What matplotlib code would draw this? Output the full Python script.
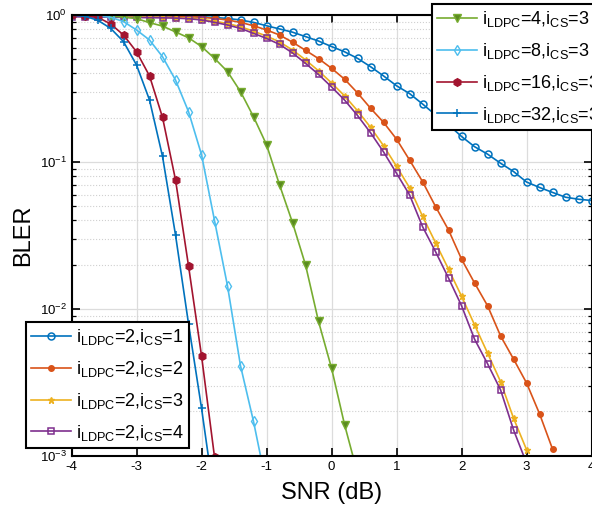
import numpy as np
import matplotlib.pyplot as plt
from matplotlib.ticker import LogLocator, NullFormatter

plt.rcParams['font.family'] = ['Liberation Sans', 'DejaVu Sans']
plt.rcParams['mathtext.fontset'] = 'custom'
plt.rcParams['mathtext.rm'] = 'Liberation Sans'
plt.rcParams['axes.unicode_minus'] = False

##############################################################
# Data (BLER vs SNR)
##############################################################
snr = [-4.0, -3.8, -3.6, -3.4, -3.2, -3.0, -2.8, -2.6, -2.4, -2.2,
       -2.0, -1.8, -1.6, -1.4, -1.2, -1.0, -0.8, -0.6, -0.4, -0.2,
       0.0, 0.2, 0.4, 0.6, 0.8, 1.0, 1.2, 1.4, 1.6, 1.8,
       2.0, 2.2, 2.4, 2.6, 2.8, 3.0, 3.2, 3.4, 3.6, 3.8, 4.0]

# i_LDPC = 2, varying i_CS
bler_cs1 = [1.0, 0.998, 0.998, 0.995, 0.995, 0.993, 0.991, 0.989, 0.984, 0.979,
            0.973, 0.962, 0.948, 0.925, 0.891, 0.845, 0.804, 0.764, 0.713, 0.665,
            0.610, 0.562, 0.507, 0.445, 0.385, 0.330, 0.292, 0.248, 0.209, 0.179,
            0.149, 0.127, 0.113, 0.098, 0.086, 0.073, 0.067, 0.062, 0.0575, 0.0557, 0.0546]
bler_cs2 = [1.0, 0.998, 0.998, 0.995, 0.995, 0.993, 0.991, 0.989, 0.984, 0.977,
            0.966, 0.948, 0.925, 0.891, 0.845, 0.791, 0.731, 0.653, 0.575, 0.505,
            0.434, 0.366, 0.295, 0.232, 0.186, 0.143, 0.103, 0.0735, 0.0497, 0.0344,
            0.0218, 0.0150, 0.0105, 0.00655, 0.00455, 0.00313, 0.00193, 0.00111]
bler_cs3 = [0.982, 0.979, 0.977, 0.975, 0.973, 0.971, 0.968, 0.964, 0.959, 0.951,
            0.935, 0.908, 0.875, 0.832, 0.776, 0.719, 0.656, 0.578, 0.495, 0.417,
            0.345, 0.282, 0.223, 0.172, 0.129, 0.0933, 0.0668, 0.0427, 0.0282, 0.0186,
            0.0122, 0.00778, 0.00500, 0.00320, 0.00180, 0.00110]
bler_cs4 = [0.973, 0.970, 0.968, 0.966, 0.964, 0.962, 0.959, 0.957, 0.953, 0.944,
            0.925, 0.891, 0.855, 0.811, 0.750, 0.693, 0.631, 0.552, 0.469, 0.394,
            0.324, 0.264, 0.207, 0.158, 0.117, 0.0837, 0.0597, 0.0363, 0.0245, 0.0162,
            0.0105, 0.00622, 0.00423, 0.00281, 0.00150, 0.00089]

# i_CS = 3, varying i_LDPC
bler_ldpc4 = [1.0, 0.995, 0.991, 0.982, 0.968, 0.946, 0.887, 0.841, 0.767, 0.700,
              0.610, 0.507, 0.412, 0.301, 0.203, 0.131, 0.0698, 0.0386, 0.0199, 0.0082,
              0.00395, 0.00163, 0.00076]
bler_ldpc8 = [1.0, 0.995, 0.986, 0.966, 0.902, 0.791, 0.676, 0.520, 0.361, 0.220,
              0.112, 0.0399, 0.0143, 0.00409, 0.00171, 0.00063]
bler_ldpc16 = [1.0, 0.991, 0.966, 0.871, 0.731, 0.562, 0.385, 0.201, 0.0755, 0.0196,
               0.00479, 0.00098]
bler_ldpc32 = [1.0, 0.982, 0.923, 0.813, 0.659, 0.457, 0.264, 0.109, 0.0318, 0.00791,
               0.00211, 0.0005]

labels_cs = [r'i$_\mathregular{LDPC}$=2,i$_\mathregular{CS}$=1',
             r'i$_\mathregular{LDPC}$=2,i$_\mathregular{CS}$=2',
             r'i$_\mathregular{LDPC}$=2,i$_\mathregular{CS}$=3',
             r'i$_\mathregular{LDPC}$=2,i$_\mathregular{CS}$=4']
labels_ldpc = [r'i$_\mathregular{LDPC}$=4,i$_\mathregular{CS}$=3',
               r'i$_\mathregular{LDPC}$=8,i$_\mathregular{CS}$=3',
               r'i$_\mathregular{LDPC}$=16,i$_\mathregular{CS}$=3',
               r'i$_\mathregular{LDPC}$=32,i$_\mathregular{CS}$=3']

##############################################################
# Plot
##############################################################
fig = plt.figure(figsize=(5.92, 5.09), dpi=100)
ax = fig.add_axes([0.1208, 0.1047, 0.8784, 0.8658])

lw = 1.2
h1 = ax.semilogy(snr[:len(bler_cs1)], bler_cs1, color='#0072BD', lw=lw, marker='o',
                 ms=5, mfc='none', mew=1.1, label=labels_cs[0])[0]
h2 = ax.semilogy(snr[:len(bler_cs2)], bler_cs2, color='#D95319', lw=lw, marker='.',
                 ms=8, label=labels_cs[1])[0]
h3 = ax.semilogy(snr[:len(bler_cs3)], bler_cs3, color='#EDB120', lw=lw, marker='*',
                 ms=5, label=labels_cs[2])[0]
h4 = ax.semilogy(snr[:len(bler_cs4)], bler_cs4, color='#7E2F8E', lw=lw, marker='s',
                 ms=4.5, mfc='none', mew=1.1, label=labels_cs[3])[0]

h5 = ax.semilogy(snr[:len(bler_ldpc4)], bler_ldpc4, color='#77AC30', lw=lw, marker='v',
                 ms=6, mfc='#5a8a20', label=labels_ldpc[0])[0]
h6 = ax.semilogy(snr[:len(bler_ldpc8)], bler_ldpc8, color='#4DBEEE', lw=lw, marker='d',
                 ms=5.5, mfc='none', mew=1.0, label=labels_ldpc[1])[0]
h7 = ax.semilogy(snr[:len(bler_ldpc16)], bler_ldpc16, color='#A2142F', lw=lw, marker='h',
                 ms=5.5, label=labels_ldpc[2])[0]
h8 = ax.semilogy(snr[:len(bler_ldpc32)], bler_ldpc32, color='#0072BD', lw=lw, marker='+',
                 ms=6, mew=1.1, label=labels_ldpc[3])[0]

ax.set_xlim(-4, 4)
ax.set_ylim(1e-3, 1)
ax.set_xticks(range(-4, 5))
ax.yaxis.set_minor_locator(LogLocator(base=10, subs=np.arange(2, 10)))
ax.yaxis.set_minor_formatter(NullFormatter())

ax.grid(True, which='major', color='#dcdcdc', lw=0.9)
ax.yaxis.grid(True, which='minor', color='#d0d0d0', lw=0.8, ls=':')
ax.set_axisbelow(True)

ax.tick_params(which='both', direction='in', top=True, right=True, labelsize=9.5)
ax.tick_params(which='major', length=6, width=1.2)
ax.tick_params(which='minor', length=3, width=0.9)
for s in ax.spines.values():
    s.set_linewidth(1.5)

ax.set_xlabel('SNR (dB)', fontsize=17, labelpad=7)
ax.set_ylabel('BLER', fontsize=17, labelpad=4)

leg_opts = dict(fontsize=13, frameon=True, fancybox=False, framealpha=1,
                edgecolor='black', handlelength=2.2, handletextpad=0.25,
                labelspacing=0.65, borderpad=0.3, borderaxespad=0)
leg1 = ax.legend(handles=[h1, h2, h3, h4], loc='lower left',
                 bbox_to_anchor=(-0.0875, 0.0175), **leg_opts)
leg1.get_frame().set_linewidth(1.5)
ax.add_artist(leg1)
leg2 = ax.legend(handles=[h5, h6, h7, h8], loc='upper left',
                 bbox_to_anchor=(0.693, 1.025), **leg_opts)
leg2.get_frame().set_linewidth(1.5)

fig.savefig('out.png', dpi=100)
